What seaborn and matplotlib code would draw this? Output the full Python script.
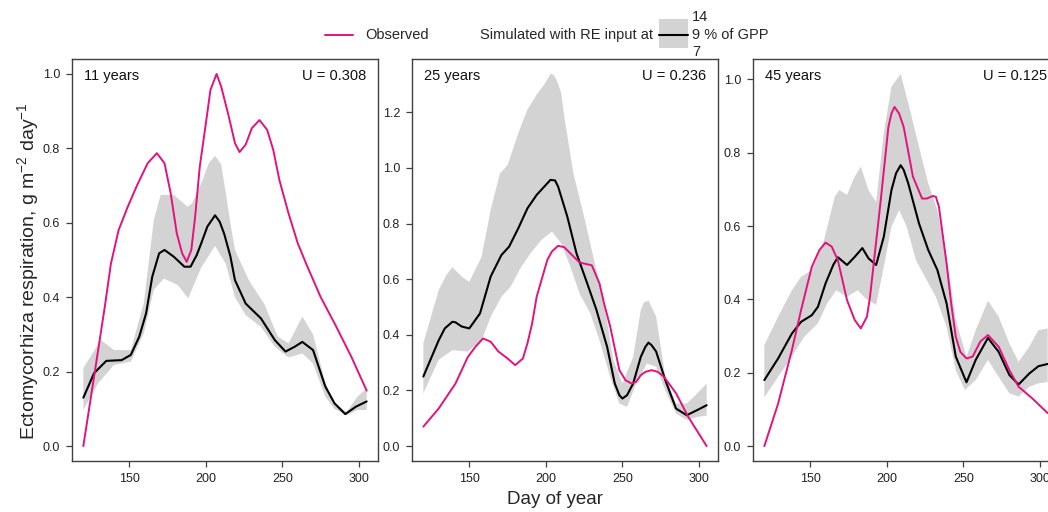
#!/usr/bin/env python3

import numpy as np
import matplotlib

matplotlib.use("Agg")
import matplotlib.pyplot as plt
from matplotlib.lines import Line2D
from matplotlib.patches import Rectangle
import seaborn as sns

# ---- 11 years ----
obs11_day = [120, 128, 134, 138, 143, 149, 155, 162, 168, 173, 177, 181, 184.5, 187.5,
             190.5, 193, 196, 200, 203, 207, 210, 215, 219, 222, 226, 230, 235, 240, 244, 248,
             254, 260, 266, 275, 284, 295, 305]
obs11 = [0.0, 0.213, 0.374, 0.49, 0.58, 0.643, 0.70, 0.76, 0.787, 0.76, 0.68, 0.572,
         0.518, 0.495, 0.527, 0.616, 0.75, 0.867, 0.957, 1.0, 0.966, 0.885, 0.814, 0.79,
         0.81, 0.854, 0.876, 0.85, 0.796, 0.715, 0.625, 0.545, 0.485, 0.40, 0.33, 0.24, 0.149]
sim11_day = [120, 127, 135, 145, 151, 156.5, 161, 165, 169.5, 173, 179, 186, 190, 194, 197,
             201, 206, 209, 212, 216, 219, 226, 236, 245, 252, 258, 263, 270, 278, 284, 291,
             298, 305]
sim11 = [0.13, 0.196, 0.229, 0.231, 0.245, 0.294, 0.357, 0.455, 0.518, 0.527, 0.509, 0.482,
         0.482, 0.513, 0.545, 0.59, 0.62, 0.603, 0.57, 0.51, 0.446, 0.383, 0.343, 0.285, 0.254,
         0.267, 0.28, 0.258, 0.16, 0.115, 0.086, 0.106, 0.12]
hi11_day = [120, 131.5, 140, 151, 159.5, 166, 170.5, 179, 188, 191, 197, 202, 206, 210,
            213, 216, 219, 228, 238, 247, 254, 263, 270, 278, 284, 292, 299, 305]
hi11 = [0.21, 0.285, 0.258, 0.258, 0.384, 0.607, 0.675, 0.675, 0.643, 0.652, 0.706, 0.76,
        0.78, 0.757, 0.68, 0.60, 0.527, 0.446, 0.383, 0.294, 0.276, 0.348, 0.30, 0.17, 0.115,
        0.092, 0.133, 0.155]
lo11_day = [120, 129.5, 140, 151, 159.5, 166, 172.5, 181.5, 188.5, 197, 206, 213, 219, 226,
            236, 245, 254, 263, 270, 278, 284, 292, 299, 305]
lo11 = [0.097, 0.168, 0.218, 0.227, 0.303, 0.42, 0.45, 0.433, 0.397, 0.48, 0.538, 0.49, 0.40,
        0.352, 0.32, 0.267, 0.238, 0.249, 0.222, 0.133, 0.10, 0.083, 0.097, 0.097]

# ---- 25 years ----
obs25_day = [120, 130, 141, 149, 154, 159, 164, 169, 175, 180, 185, 188, 191, 194, 201, 204,
             208, 212, 216, 222, 230, 235, 238, 242, 248, 252, 256, 259, 262, 265, 269, 273,
             277, 285, 293, 305]
obs25 = [0.07, 0.135, 0.225, 0.32, 0.357, 0.387, 0.375, 0.34, 0.315, 0.291, 0.315, 0.37, 0.44,
         0.537, 0.67, 0.70, 0.72, 0.715, 0.693, 0.66, 0.65, 0.585, 0.513, 0.43, 0.273, 0.237,
         0.225, 0.231, 0.255, 0.267, 0.273, 0.267, 0.25, 0.19, 0.105, 0.0]
sim25_day = [120, 130, 134, 139, 141, 145, 150, 157, 164, 171, 176, 182, 188, 194, 199, 203,
             206, 208, 214, 220, 227, 233, 240, 245, 248, 250, 253, 257, 262, 265, 267, 269,
             272, 278, 285, 292, 299, 305]
sim25 = [0.25, 0.38, 0.423, 0.447, 0.445, 0.43, 0.423, 0.477, 0.61, 0.687, 0.717, 0.783, 0.855,
         0.903, 0.933, 0.957, 0.955, 0.933, 0.825, 0.693, 0.585, 0.49, 0.357, 0.225, 0.183,
         0.171, 0.183, 0.225, 0.321, 0.357, 0.372, 0.363, 0.34, 0.237, 0.135, 0.111, 0.13, 0.147]
hi25_day = [120, 130, 135, 139, 145, 150, 158, 164, 170, 175, 182, 188, 194, 199, 203, 205,
            207, 210, 212, 218, 225, 231, 238, 244, 250, 257, 262, 264, 267, 269, 272, 278,
            285, 292, 299, 305]
hi25 = [0.37, 0.56, 0.615, 0.643, 0.61, 0.59, 0.68, 0.85, 0.98, 1.01, 1.125, 1.21, 1.263, 1.30,
        1.338, 1.335, 1.317, 1.27, 1.185, 0.98, 0.825, 0.68, 0.513, 0.31, 0.225, 0.32, 0.49,
        0.516, 0.523, 0.50, 0.465, 0.25, 0.153, 0.153, 0.19, 0.225]
lo25_day = [120, 130, 139, 149, 158, 164, 171, 177, 184, 190, 197, 204, 210, 216, 222, 229,
            235, 242, 248, 253, 259, 266, 272, 278, 285, 292, 299, 305]
lo25 = [0.19, 0.31, 0.345, 0.34, 0.38, 0.465, 0.537, 0.573, 0.645, 0.693, 0.741, 0.771, 0.729,
        0.645, 0.549, 0.477, 0.381, 0.249, 0.153, 0.141, 0.225, 0.297, 0.285, 0.20, 0.117,
        0.094, 0.105, 0.11]

# ---- 45 years ----
obs45_day = [120, 129, 138, 144, 151, 156, 160, 164, 168, 174, 179, 183, 187, 189, 196, 201,
             203, 205, 208, 211, 217, 223, 226, 230, 232, 234, 239, 242, 245, 248, 252, 256,
             261, 266, 273, 280, 286, 295, 305]
obs45 = [0.0, 0.116, 0.262, 0.371, 0.489, 0.535, 0.555, 0.544, 0.507, 0.398, 0.344, 0.321,
         0.353, 0.407, 0.67, 0.87, 0.907, 0.925, 0.907, 0.87, 0.735, 0.675, 0.675, 0.682, 0.68,
         0.653, 0.498, 0.389, 0.298, 0.257, 0.239, 0.244, 0.285, 0.303, 0.271, 0.207, 0.162,
         0.13, 0.09]
sim45_day = [120, 129, 138, 144, 151, 155, 160, 165, 168, 174, 179, 184, 188, 193, 198, 203,
             206, 209, 211, 214, 221, 227, 233, 239, 245, 252, 258, 266, 273, 280, 286, 293,
             299, 305]
sim45 = [0.18, 0.239, 0.307, 0.339, 0.357, 0.38, 0.444, 0.494, 0.515, 0.494, 0.516, 0.54, 0.512,
         0.494, 0.571, 0.698, 0.744, 0.766, 0.753, 0.716, 0.607, 0.535, 0.48, 0.389, 0.244,
         0.174, 0.235, 0.295, 0.257, 0.194, 0.168, 0.198, 0.218, 0.224]
hi45_day = [120, 129, 138, 144, 151, 159, 166, 169, 174, 179, 183, 188, 193, 198, 203, 209,
            214, 221, 227, 233, 239, 245, 252, 258, 266, 273, 280, 286, 293, 299, 305]
hi45 = [0.275, 0.353, 0.425, 0.462, 0.48, 0.562, 0.68, 0.698, 0.685, 0.735, 0.762, 0.698, 0.666,
        0.853, 0.98, 1.015, 0.935, 0.816, 0.716, 0.644, 0.516, 0.344, 0.244, 0.316, 0.396,
        0.353, 0.28, 0.23, 0.271, 0.316, 0.321]
lo45_day = [120, 129, 138, 146, 155, 161, 167, 174, 181, 186, 193, 198, 203, 208, 213, 219,
            226, 232, 239, 245, 251, 258, 266, 273, 280, 286, 293, 299, 305]
lo45 = [0.133, 0.189, 0.244, 0.298, 0.335, 0.389, 0.425, 0.407, 0.425, 0.403, 0.385, 0.489,
        0.598, 0.644, 0.598, 0.507, 0.453, 0.407, 0.325, 0.207, 0.153, 0.18, 0.235, 0.189,
        0.144, 0.135, 0.162, 0.171, 0.175]

panel_labels = ["11 years", "25 years", "45 years"]
u_labels = ["U = 0.308", "U = 0.236", "U = 0.125"]
y_ticks = [[0.0, 0.2, 0.4, 0.6, 0.8, 1.0],
           [0.0, 0.2, 0.4, 0.6, 0.8, 1.0, 1.2],
           [0.0, 0.2, 0.4, 0.6, 0.8, 1.0]]
x_ticks = [150, 200, 250, 300]

PINK = "#E2127F"
BAND = "#D3D3D3"
EDGE = "#404040"

sns.set_style("ticks")
plt.rcParams["font.family"] = ["Liberation Sans", "DejaVu Sans"]
plt.rcParams["mathtext.fontset"] = "custom"
plt.rcParams["mathtext.rm"] = "Liberation Sans"
plt.rcParams["mathtext.it"] = "Liberation Sans:italic"

fig = plt.figure(figsize=(10.48, 5.12), dpi=100)

panels = [
    (obs11_day, obs11, sim11_day, sim11, hi11_day, hi11, lo11_day, lo11),
    (obs25_day, obs25, sim25_day, sim25, hi25_day, hi25, lo25_day, lo25),
    (obs45_day, obs45, sim45_day, sim45, hi45_day, hi45, lo45_day, lo45),
]
lefts = [72, 412, 753]

for i, (od, ov, sd, sv, hd, hv, ld, lv) in enumerate(panels):
    ax = fig.add_axes([lefts[i] / 1048, 51 / 512, 306 / 1048, 402 / 512])

    # uncertainty band (upper edge then lower edge back)
    ax.fill(np.r_[hd, ld[::-1]], np.r_[hv, lv[::-1]], color=BAND, lw=0, zorder=1)
    sns.lineplot(x=sd, y=sv, color="black", lw=1.5, estimator=None, ax=ax, zorder=3)
    sns.lineplot(x=od, y=ov, color=PINK, lw=1.4, estimator=None, ax=ax, zorder=4)

    top = max(max(hv), max(ov))
    ax.set_xlim(120 - 7.4, 305 + 7.4)
    ax.set_ylim(-0.04 * top, 1.04 * top)
    ax.set_xticks(x_ticks)
    ax.set_yticks(y_ticks[i])
    ax.set_yticklabels([f"{t:.1f}" for t in y_ticks[i]])
    ax.tick_params(direction="out", length=4.5, width=0.9, color=EDGE,
                   labelsize=9, labelcolor="#222222", pad=4)
    for s in ax.spines.values():
        s.set_color(EDGE)
        s.set_linewidth(1.0)
    ax.set_xlabel("")
    ax.set_ylabel("")

    ax.text(0.04, 0.958, panel_labels[i], transform=ax.transAxes,
            ha="left", va="center", fontsize=10.5, color="#111111")
    ax.text(0.96, 0.958, u_labels[i], transform=ax.transAxes,
            ha="right", va="center", fontsize=10.5, color="#111111")

fig.text(28 / 1048, 1 - 271 / 512,
         "Ectomycorhiza respiration, g m$^{-2}$ day$^{-1}$",
         rotation=90, ha="center", va="center", fontsize=14)
fig.text(555 / 1048, 1 - 499 / 512, "Day of year",
         ha="center", va="center", fontsize=13.5)

# legend across the top
ly = 1 - 35 / 512
fig.add_artist(Line2D([325 / 1048, 353 / 1048], [ly, ly], color=PINK, lw=1.4))
fig.text(365 / 1048, ly, "Observed", ha="left", va="center", fontsize=10.5)
fig.text(653 / 1048, ly, "Simulated with RE input at", ha="right", va="center", fontsize=10.5)
fig.add_artist(Rectangle((659 / 1048, 1 - 48 / 512), 29 / 1048, 29 / 512,
                         color=BAND, lw=0, transform=fig.transFigure))
fig.add_artist(Line2D([659 / 1048, 688 / 1048], [ly, ly], color="black", lw=1.5))
fig.text(692 / 1048, 1 - 17 / 512, "14", ha="left", va="center", fontsize=10.5)
fig.text(692 / 1048, ly, "9 % of GPP", ha="left", va="center", fontsize=10.5)
fig.text(692 / 1048, 1 - 52 / 512, "7", ha="left", va="center", fontsize=10.5)

fig.savefig("out.png", dpi=100)
